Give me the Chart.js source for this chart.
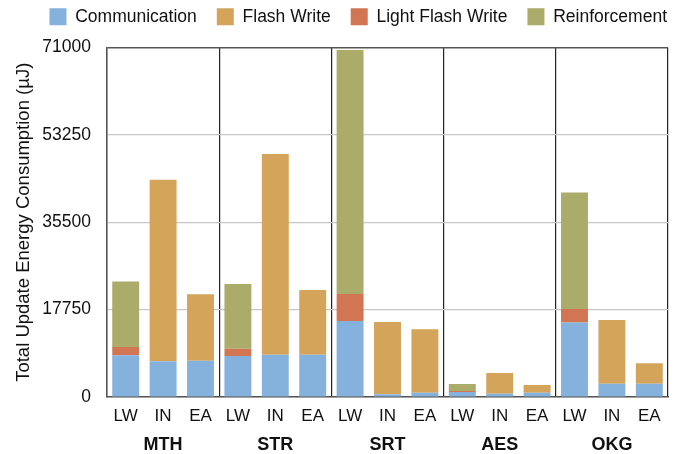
<!DOCTYPE html>
<html>
<head>
<meta charset="utf-8">
<script src="https://cdn.jsdelivr.net/npm/chart.js@4/dist/chart.umd.min.js"></script>
<style>
  html, body { margin: 0; padding: 0; background: #fff; }
  #wrap { width: 697px; height: 454px; }
</style>
</head>
<body>
<div id="wrap"><canvas id="myChart"></canvas></div>
<script>
// categorias y valores
const groups = ['MTH', 'STR', 'SRT', 'AES', 'OKG'];
const variants = ['LW', 'IN', 'EA'];
const communication = [8480, 7260, 7380, 8340, 8600, 8600, 15450, 550, 880, 1020, 680, 880, 15110, 2710, 2710];
const flashWrite = [0, 36860, 13500, 0, 40740, 13150, 0, 14700, 12880, 0, 4200, 1560, 0, 12940, 4140];
const lightFlashWrite = [1690, 0, 0, 1480, 0, 0, 5490, 0, 0, 200, 0, 0, 2780, 0, 0];
const reinforcement = [13270, 0, 0, 13150, 0, 0, 49540, 0, 0, 1420, 0, 0, 23650, 0, 0];
const yTicks = [0, 17750, 35500, 53250, 71000];

const labels = [];
groups.forEach(() => variants.forEach(v => labels.push(v)));

const font = 'Liberation Sans, Arial, Helvetica, sans-serif';
Chart.defaults.font.family = font;
Chart.defaults.color = '#111';

// espacio debajo de la leyenda y leyenda un poco a la derecha
const legendTweak = {
  id: 'legendTweak',
  beforeInit(chart) {
    const fit = chart.legend.fit;
    chart.legend.fit = function () {
      fit.bind(chart.legend)();
      this.height += 12;
    };
  },
  afterLayout(chart) {
    chart.legend.left += 19;
    chart.legend.right += 19;
  }
};

const ctx = document.getElementById('myChart').getContext('2d');
const myChart = new Chart(ctx, {
  type: 'bar',
  data: {
    labels: labels,
    datasets: [
      { label: 'Communication', data: communication, backgroundColor: '#85b2dd' },
      { label: 'Flash Write', data: flashWrite, backgroundColor: '#d4a45b' },
      { label: 'Light Flash Write', data: lightFlashWrite, backgroundColor: '#d27552' },
      { label: 'Reinforcement', data: reinforcement, backgroundColor: '#abab6a' }
    ].map(d => Object.assign(d, { barPercentage: 0.72, categoryPercentage: 1, xAxisID: 'x' }))
  },
  plugins: [legendTweak],
  options: {
    responsive: true,
    maintainAspectRatio: false,
    animation: false,
    layout: { padding: { left: 10, right: 29, top: -12, bottom: -1 } },
    plugins: {
      legend: {
        position: 'top',
        align: 'end',
        labels: { font: { size: 17.5 }, boxWidth: 17, boxHeight: 17, padding: 20, color: '#111' }
      },
      tooltip: { enabled: false }
    },
    scales: {
      x: {
        stacked: true,
        grid: { display: false, drawTicks: false },
        border: { color: '#555', width: 1.5 },
        ticks: { font: { size: 17 }, padding: 9, maxRotation: 0, autoSkip: false }
      },
      x2: {
        type: 'category',
        labels: groups,
        position: 'bottom',
        offset: true,
        grid: {
          drawOnChartArea: true,
          drawTicks: false,
          color: c => (c.index === 0 || c.index === groups.length) ? '#555' : '#222',
          lineWidth: 1.2
        },
        border: { display: false },
        ticks: { font: { size: 18, weight: 'bold' }, padding: -1 }
      },
      y: {
        stacked: true,
        min: 0,
        max: 71000,
        afterBuildTicks: axis => { axis.ticks = yTicks.map(v => ({ value: v })); },
        afterFit: axis => { axis.width = 97; },
        ticks: { font: { size: 17.5 }, padding: 16, callback: v => String(v) },
        grid: {
          color: c => c.tick && c.tick.value === 71000 ? '#555' : '#c8c8c8',
          lineWidth: c => c.tick && c.tick.value === 71000 ? 1.5 : 1.2,
          drawTicks: false
        },
        border: { color: '#555', width: 1.5 },
        title: {
          display: true,
          text: 'Total Update Energy Consumption (µJ)',
          font: { size: 18.5 },
          padding: { top: 3, bottom: 0 }
        }
      }
    }
  }
});
</script>
</body>
</html>
